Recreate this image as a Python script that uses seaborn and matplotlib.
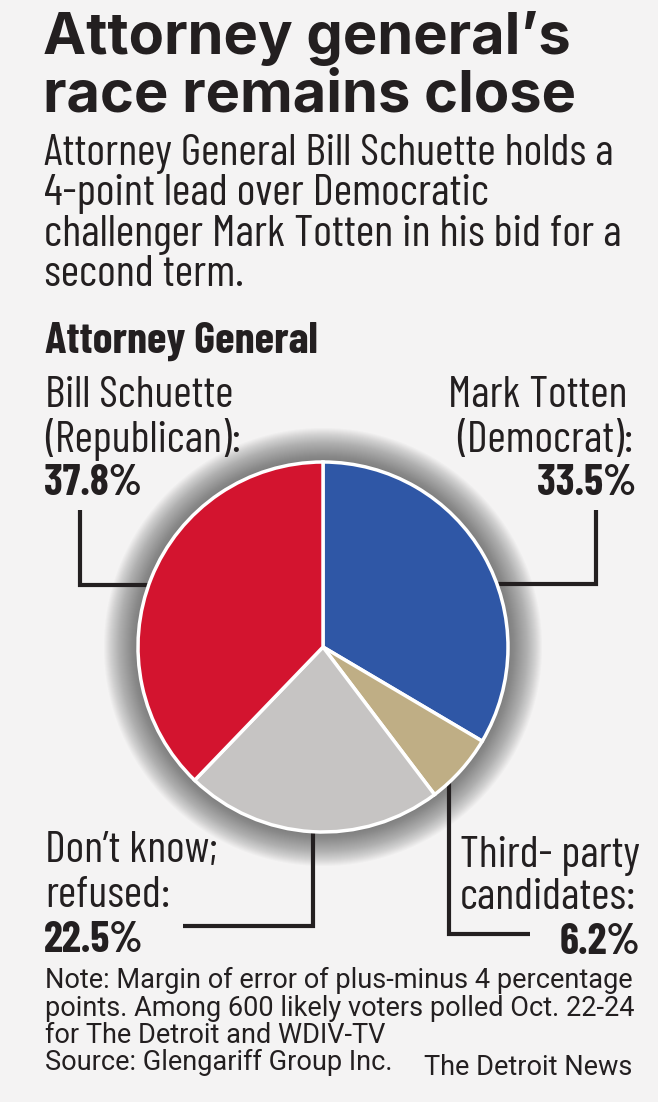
import matplotlib
matplotlib.use("Agg")
import matplotlib.pyplot as plt
from matplotlib.patches import Circle
import seaborn as sns

# Poll results, clockwise from 12 o'clock
groups = ["Mark Totten", "Third-party", "Don't know", "Bill Schuette"]
shares = [33.5, 6.2, 22.5, 37.8]
slice_colors = ["#2f57a6", "#bfae85", "#c6c4c3", "#d3142f"]

title_lines = ["Attorney general’s", "race remains close"]
subtitle_lines = ["Attorney General Bill Schuette holds a",
                  "4-point lead over Democratic",
                  "challenger Mark Totten in his bid for a",
                  "second term."]
note_lines = ["Note: Margin of error of plus-minus 4 percentage",
              "points. Among 600 likely voters polled Oct. 22-24",
              "for The Detroit and WDIV-TV",
              "Source: Glengariff Group Inc."]

W, H = 658, 1102
BG = "#f4f3f3"
INK = "#231f20"
COND = ["Barlow Condensed", "Roboto Condensed", "DejaVu Sans"]

sns.set_theme(style="white")
plt.rcParams["font.family"] = COND

fig = plt.figure(figsize=(W / 100, H / 100), dpi=100, facecolor=BG)
ax = fig.add_axes([0, 0, 1, 1])
ax.set_facecolor(BG)
renderer = fig.canvas.get_renderer()


def Y(y):
    # layout positions are measured in pixels from the top
    return H - y


def fit(t, width):
    # resize a text so that it spans the given width in pixels
    w = t.get_window_extent(renderer).width
    t.set_fontsize(t.get_fontsize() * width / w)
    return t.get_fontsize()


cx, cy, r = 323, 647, 185

# soft shadow around the pie
for k in range(34, 0, -1):
    ax.add_patch(Circle((cx, Y(cy)), r + k, color="#444444", alpha=0.026, lw=0, zorder=1))

wedges, _ = ax.pie(shares, colors=slice_colors, startangle=90, counterclock=False,
                   center=(cx, Y(cy)), radius=r,
                   wedgeprops=dict(edgecolor="white", linewidth=2.5))
for w in wedges:
    w.set_zorder(3)

ax.set_xlim(0, W)
ax.set_ylim(0, H)
ax.set_aspect("equal")
ax.axis("off")

# headline
titles = [ax.text(43, Y(54 + i * 57), line, family=["Inter", "Lato", "DejaVu Sans"],
                  weight="bold", fontsize=38, color=INK, va="baseline", ha="left")
          for i, line in enumerate(title_lines)]
fs = fit(titles[0], 528)
titles[1].set_fontsize(fs)

subs = [ax.text(44, Y(165 + i * 40.5), line, weight="normal", fontsize=28,
                color=INK, va="baseline", ha="left")
        for i, line in enumerate(subtitle_lines)]
fs = fit(subs[0], 570)
for t in subs[1:]:
    t.set_fontsize(fs)

head = ax.text(45, Y(353), "Attorney General", weight="bold", fontsize=29, color=INK,
               va="baseline", ha="left")
fit(head, 272)

lab = dict(weight="normal", fontsize=28, color=INK, va="baseline")
pct = dict(weight="bold", fontsize=29, color=INK, va="baseline")

labels = [
    ax.text(45, Y(407), "Bill Schuette", ha="left", **lab),
    ax.text(45, Y(452), "(Republican):", ha="left", **lab),
    ax.text(627, Y(407), "Mark Totten", ha="right", **lab),
    ax.text(633, Y(452), "(Democrat):", ha="right", **lab),
    ax.text(45, Y(862), "Don’t know;", ha="left", **lab),
    ax.text(45, Y(907), "refused:", ha="left", **lab),
    ax.text(640, Y(867), "Third- party", ha="right", **lab),
    ax.text(636, Y(909), "candidates:", ha="right", **lab),
]
fs = fit(labels[0], 188)
for t in labels[1:]:
    t.set_fontsize(fs)

pcts = [
    ax.text(44, Y(495), f"{shares[3]}%", ha="left", **pct),
    ax.text(636, Y(495), f"{shares[0]}%", ha="right", **pct),
    ax.text(44, Y(952), f"{shares[2]}%", ha="left", **pct),
    ax.text(640, Y(954), f"{shares[1]}%", ha="right", **pct),
]
fs = fit(pcts[0], 98)
for t in pcts[1:]:
    t.set_fontsize(fs)

# leader lines
lk = dict(color=INK, lw=3, solid_capstyle="butt", solid_joinstyle="miter", zorder=2)
ax.plot([80, 80, 150], [Y(510), Y(585), Y(585)], **lk)
ax.plot([596, 596, 497], [Y(510), Y(584), Y(584)], **lk)
ax.plot([313, 313, 183], [Y(828), Y(926), Y(926)], **lk)
ax.plot([449, 449, 530], [Y(780), Y(934), Y(934)], **lk)

# footnote
for i, line in enumerate(note_lines):
    ax.text(45, Y(988 + i * 27.5), line, family=["Roboto", "DejaVu Sans"],
            fontsize=19.5, color=INK, va="baseline", ha="left")
ax.text(632, Y(1075), "The Detroit News", family=["Roboto", "DejaVu Sans"],
        fontsize=19.5, color=INK, va="baseline", ha="right")

fig.savefig("out.png", dpi=100, facecolor=BG)
